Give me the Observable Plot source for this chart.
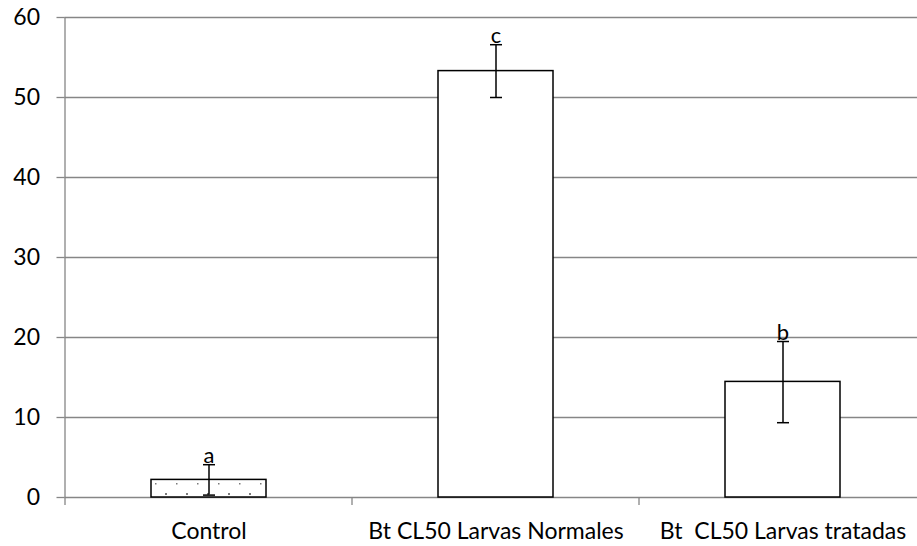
<!DOCTYPE html>
<html>
<head>
<meta charset="utf-8">
<script src="https://cdn.jsdelivr.net/npm/d3@7"></script>
<script src="https://cdn.jsdelivr.net/npm/@observablehq/plot@0.6"></script>
<style>
  html, body { margin: 0; padding: 0; background: #fff; }
  svg text { white-space: pre; }
</style>
</head>
<body>
<div id="chart"></div>
<script>
const categories = ["Control", "Bt CL50 Larvas Normales", "Bt  CL50 Larvas tratadas"];
const means = [2.2, 53.3, 14.45];
const lows = [0.3, 50.0, 9.35];
const highs = [4.1, 56.6, 19.5];
const letters = ["a", "c", "b"];
const yTicks = [0, 10, 20, 30, 40, 50, 60];
const fills = ["url(#dots)", "white", "white"];

const data = categories.map((c, i) => ({cat: c, mean: means[i], lo: lows[i], hi: highs[i], letter: letters[i], fill: fills[i]}));

const capSymbol = {
  draw(ctx) { ctx.moveTo(-6, 0); ctx.lineTo(6, 0); }
};

const gray = "#868686";
const font = "Lato, 'Open Sans', sans-serif";

const chart = Plot.plot({
  width: 917,
  height: 546,
  marginTop: 17,
  marginBottom: 49,
  marginLeft: 64.5,
  marginRight: 0,
  style: {fontFamily: font, fontSize: "22px", color: "#000", background: "white"},
  x: {domain: categories, range: [64.5, 927], padding: 0, label: null},
  y: {domain: [0, 60], label: null},
  marks: [
    Plot.gridY(yTicks, {stroke: gray, strokeOpacity: 1, strokeWidth: 1.3}),
    Plot.axisY(yTicks, {tickSize: 8, tickPadding: 17, stroke: gray, strokeOpacity: 1, strokeWidth: 1.3, fill: "#000", fontSize: 23, label: null}),
    Plot.axisX({tickSize: 0, tickPadding: 25, fill: "#000", fontSize: 23, label: null}),
    Plot.barY(data, {x: "cat", y: "mean", fill: "fill", stroke: "#000", strokeWidth: 1.5, insetLeft: 86, insetRight: 86}),
    Plot.ruleX(data, {x: "cat", y1: "lo", y2: "hi", stroke: "#000", strokeWidth: 1.5}),
    Plot.dot(data, {x: "cat", y: "lo", symbol: capSymbol, stroke: "#000", strokeWidth: 1.5}),
    Plot.dot(data, {x: "cat", y: "hi", symbol: capSymbol, stroke: "#000", strokeWidth: 1.5}),
    Plot.text(data, {x: "cat", y: "hi", text: "letter", lineAnchor: "bottom", dy: -2, fontSize: 22, fill: "#000"})
  ]
});

// pattern for the Control bar
const svg = d3.select(chart);
const defs = svg.insert("defs", ":first-child");
const pat = defs.append("pattern").attr("id", "dots").attr("patternUnits", "userSpaceOnUse")
  .attr("width", 21).attr("height", 20).attr("x", 0).attr("y", 0);
pat.append("rect").attr("width", 21).attr("height", 20).attr("fill", "white");
pat.append("rect").attr("x", 8).attr("y", 3).attr("width", 1.5).attr("height", 1.5).attr("fill", "#7a7a7a");
pat.append("rect").attr("x", 18).attr("y", 13).attr("width", 2).attr("height", 2).attr("fill", "#7a7a7a");

// axis lines and category boundary ticks, derived from the scales
const xs = chart.scale("x");
const ys = chart.scale("y");
const y0 = ys.apply(0), yTop = ys.apply(60);
const bounds = categories.map(c => xs.apply(c)).concat([xs.apply(categories[categories.length - 1]) + xs.bandwidth]);
const g = svg.append("g").attr("stroke", gray).attr("stroke-width", 1.3);
g.append("line").attr("x1", bounds[0]).attr("x2", bounds[0]).attr("y1", yTop).attr("y2", y0 + 8);
bounds.slice(1).forEach(b => {
  g.append("line").attr("x1", b).attr("x2", b).attr("y1", y0).attr("y2", y0 + 8);
});

document.getElementById("chart").appendChild(chart);
</script>
</body>
</html>
